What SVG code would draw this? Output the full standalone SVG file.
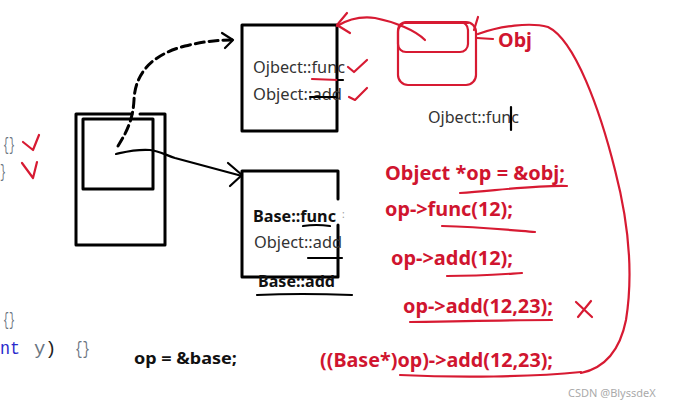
<svg xmlns="http://www.w3.org/2000/svg" width="673" height="407" viewBox="0 0 673 407">
<style>
.bk{fill:none;stroke:#000;stroke-width:3;stroke-linecap:round;stroke-linejoin:round}
.bk2{fill:none;stroke:#000;stroke-width:2.2;stroke-linecap:round;stroke-linejoin:round}
.rd{fill:none;stroke:#d71a32;stroke-width:2.2;stroke-linecap:round;stroke-linejoin:round}
.t{font-family:"Noto Sans","Open Sans",sans-serif;font-size:17px;fill:#333}
.tb{font-family:"Noto Sans","Open Sans",sans-serif;font-size:16px;font-weight:bold;fill:#111}
.rc{font-family:"Noto Sans","Open Sans",sans-serif;font-size:19px;font-weight:bold;fill:#d0152f}
.mono{font-family:"Liberation Mono",monospace;font-size:19px}
</style>
<rect width="673" height="407" fill="#fff"/>

<g id="code-fragments">
<text class="mono" x="3" y="150" fill="#6b7480" textLength="12" lengthAdjust="spacingAndGlyphs">{}</text>
<path class="rd" d="M23,142 L33,150 L39,135"/>
<text class="mono" x="0" y="177" fill="#6b7480" textLength="6" lengthAdjust="spacingAndGlyphs">}</text>
<path class="rd" d="M22,163 L33,178 L37,162"/>
<text class="mono" x="3" y="325" fill="#6b7480" textLength="12" lengthAdjust="spacingAndGlyphs">{}</text>
<text class="mono" x="0" y="354" fill="#2a2acc" textLength="20" lengthAdjust="spacingAndGlyphs">nt</text>
<text class="mono" x="34" y="354" fill="#6b7480">y</text>
<text class="mono" x="45" y="354" fill="#222">)</text>
<text class="mono" x="75" y="354" fill="#6b7480" textLength="15" lengthAdjust="spacingAndGlyphs">{}</text>
</g>

<g id="pointer-box">
<path class="bk" d="M132,114 L76,114 L76,245 L165,245 L165,114 L140,114"/>
<rect class="bk" x="83" y="119" width="70" height="70"/>
</g>

<g id="vtable-object">
<rect class="bk" x="242" y="25" width="95" height="106"/>
<text class="t" x="253" y="73" textLength="92" lengthAdjust="spacingAndGlyphs">Ojbect::func</text>
<text class="t" x="253" y="100" textLength="89" lengthAdjust="spacingAndGlyphs">Object::add</text>
<path class="rd" d="M312,79 L338,80"/>
<path class="bk2" d="M338,80 L343,80"/>
<path class="bk2" d="M310,97 L337,97"/>
<path class="rd" d="M348,67 L354,72 L367,60"/>
<path class="rd" d="M349,97 L355,100 L367,88"/>
</g>

<g id="vtable-base">
<path class="bk" d="M338,199 L338,171 L242,171 L242,277 L338,277 L338,225"/>
<text class="tb" x="253" y="222" textLength="83" lengthAdjust="spacingAndGlyphs">Base::func</text>
<text x="342" y="218" font-family="Noto Sans,sans-serif" font-size="10" fill="#999">:</text>
<path class="bk2" d="M303,226 Q316,224 330,226"/>
<text class="t" x="254" y="248" textLength="88" lengthAdjust="spacingAndGlyphs">Object::add</text>
<path class="bk2" d="M308,258 L342,258"/>
<text class="tb" x="258" y="287" textLength="77" lengthAdjust="spacingAndGlyphs">Base::add</text>
<path class="bk2" d="M257,295 Q300,293 352,295"/>
</g>

<g id="obj">
<rect class="rd" x="398" y="22" width="78" height="63" rx="10"/>
<rect class="rd" x="398" y="22" width="70" height="30" rx="8"/>
<path class="rd" d="M405,23 L468,23" stroke-width="4"/>
<path class="rd" d="M478,17 L474,30"/>
<path class="rd" d="M477,38 L493,39"/>
<text class="rc" x="498" y="47" font-size="21" textLength="34" lengthAdjust="spacingAndGlyphs">Obj</text>
</g>

<g id="floating-text">
<text class="t" x="428" y="123" textLength="91" lengthAdjust="spacingAndGlyphs">Ojbect::func</text>
<path class="bk2" d="M511,107 L511,130" stroke-width="2.6"/>
</g>

<g id="red-code">
<text class="rc" x="385" y="180" textLength="180" lengthAdjust="spacingAndGlyphs">Object *op = &amp;obj;</text>
<path class="rd" d="M460,193 C500,190 540,185 567,186"/>
<text class="rc" x="385" y="216" textLength="128" lengthAdjust="spacingAndGlyphs">op-&gt;func(12);</text>
<path class="rd" d="M442,226 C480,227 510,230 535,232"/>
<text class="rc" x="391" y="265" textLength="122" lengthAdjust="spacingAndGlyphs">op-&gt;add(12);</text>
<path class="rd" d="M447,276 C480,276 505,274 522,273"/>
<text class="rc" x="403" y="313" textLength="150" lengthAdjust="spacingAndGlyphs">op-&gt;add(12,23);</text>
<path class="rd" d="M410,322 C460,321 510,320 552,320"/>
<path class="rd" d="M576,302 L592,317 M591,301 L578,317"/>
<text class="rc" x="320" y="367" textLength="233" lengthAdjust="spacingAndGlyphs">((Base*)op)-&gt;add(12,23);</text>
<path class="rd" d="M400,375 C460,378 530,377 581,372"/>
</g>

<g id="base-code">
<text class="tb" x="134" y="364" textLength="103" lengthAdjust="spacingAndGlyphs">op = &amp;base;</text>
</g>

<g id="connectors">
<path class="bk" d="M118,146 C128,130 133,118 134,100 C135,75 150,55 185,46 C205,41 220,40 233,40" stroke-width="2.5" stroke-dasharray="9 5"/>
<path class="bk2" d="M222,33 L233,40 L225,48"/>
<path class="bk2" d="M116,154 C125,152 135,149 150,150 C160,151 165,155 175,158 L242,176"/>
<path class="bk2" d="M228,163 L242,175 L230,186"/>
<path class="rd" d="M425,40 C415,30 395,22 375,18 C360,16 347,20 337,26"/>
<path class="rd" d="M347,13 L337,25 L350,33"/>
<path class="rd" d="M478,34 C500,26 530,22 548,27 C575,40 600,110 615,170 C628,220 634,270 626,320 C620,350 605,368 581,373"/>
</g>

<text x="568" y="397" font-family="Noto Sans,sans-serif" font-size="11" fill="#aaa">CSDN @BlyssdeX</text>
</svg>
